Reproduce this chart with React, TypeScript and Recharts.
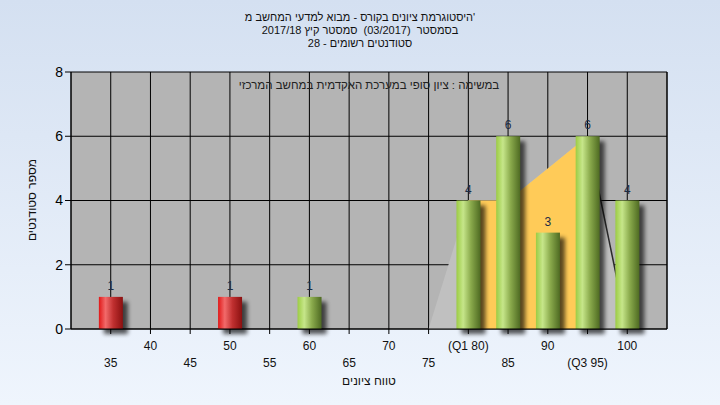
import React from 'react';
import {
  ComposedChart,
  Bar,
  Area,
  XAxis,
  YAxis,
  CartesianGrid,
  LabelList,
} from 'recharts';

// grade buckets and how many students landed in each
const scores = [35, 40, 45, 50, 55, 60, 65, 70, 75, 80, 85, 90, 95, 100];
const counts = [1, 0, 0, 1, 0, 1, 0, 0, 0, 4, 6, 3, 6, 4];
const tickLabels = ['35', '40', '45', '50', '55', '60', '65', '70', '75', '(Q1 80)', '85', '90', '(Q3 95)', '100'];
// shaded spread behind the bars (light grey) and the Q1..Q3 band (yellow)
const spread = [null, null, null, null, null, null, null, null, 0, 4, 4, 5, 6, 0];
const spreadEdge = [null, null, null, null, null, null, null, null, null, null, null, null, 6, 0];
const iqrBand = [null, null, null, null, null, null, null, null, null, 4, 4, 5, 6, null];
const yTicks = [0, 2, 4, 6, 8];
const passMark = 55;

const titleLines = [
  "היסטוגרמת ציונים בקורס - מבוא למדעי המחשב מ'",
  'בסמסטר  (03/2017)  סמסטר קיץ 2017/18',
  'סטודנטים רשומים - 28',
];
const subtitle = 'במשימה : ציון סופי במערכת האקדמית במחשב המרכזי';
const xTitle = 'טווח ציונים';
const yTitle = 'מספר סטודנטים';

const data = scores.map((score, i) => ({
  score,
  count: counts[i],
  spread: spread[i],
  edge: spreadEdge[i],
  iqr: iqrBand[i],
}));

const FONT = '"Liberation Sans", Arial, sans-serif';

const GlossyBar = (props: any) => {
  const { x, y, width, height, payload } = props;
  if (!height || height <= 0) return null;
  const fill = payload.score < passMark ? 'url(#redGrad)' : 'url(#greenGrad)';
  return (
    <g>
      <rect x={x + 5} y={y + 5} width={width} height={height} fill='#000' opacity={0.65} filter='url(#barShadow)' />
      <rect x={x} y={y} width={width} height={height} fill={fill} />
    </g>
  );
};

const ScoreTick = (props: any) => {
  const { x, y, payload } = props;
  const i = scores.indexOf(payload.value);
  const lower = i % 2 === 0;
  return (
    <text x={x} y={y + (lower ? 31 : 14)} textAnchor='middle' fontSize={12} fontFamily={FONT} fill='#111'>
      {tickLabels[i]}
    </text>
  );
};

const App = () => {
  return (
    <div
      style={{
        position: 'absolute',
        left: 0,
        top: 0,
        width: 720,
        height: 405,
        background: 'linear-gradient(#d4e0f1, #eff5fd)',
        fontFamily: FONT,
      }}
    >
      <svg width={0} height={0} style={{ position: 'absolute' }}>
        <defs>
          <linearGradient id='greenGrad' x1='0' y1='0' x2='1' y2='0'>
            <stop offset='0%' stopColor='#9ccc44' />
            <stop offset='28%' stopColor='#c6e68a' />
            <stop offset='60%' stopColor='#8aaa4c' />
            <stop offset='100%' stopColor='#4e6a22' />
          </linearGradient>
          <linearGradient id='redGrad' x1='0' y1='0' x2='1' y2='0'>
            <stop offset='0%' stopColor='#e01818' />
            <stop offset='28%' stopColor='#f26a6a' />
            <stop offset='60%' stopColor='#c03030' />
            <stop offset='100%' stopColor='#8a1010' />
          </linearGradient>
          <filter id='barShadow' x='-50%' y='-50%' width='200%' height='200%'>
            <feGaussianBlur stdDeviation='2' />
          </filter>
        </defs>
      </svg>
      <ComposedChart
        width={720}
        height={405}
        data={data}
        margin={{ top: 72, right: 23, bottom: 36, left: 41 }}
      >
        <CartesianGrid fill='#b4b4b4' stroke='#000' strokeOpacity={1} />
        <XAxis
          dataKey='score'
          type='number'
          domain={[30, 105]}
          ticks={scores}
          interval={0}
          height={40}
          tick={<ScoreTick />}
          tickSize={5}
          axisLine={{ stroke: '#000' }}
          tickLine={{ stroke: '#000' }}
        />
        <YAxis
          domain={[0, 8]}
          ticks={yTicks}
          width={30}
          tickSize={6}
          tickMargin={2}
          axisLine={{ stroke: '#000' }}
          tickLine={{ stroke: '#000' }}
          tick={{ fill: '#000', fontSize: 14, fontFamily: FONT }}
        />
        <YAxis
          yAxisId='r'
          orientation='right'
          domain={[0, 8]}
          ticks={yTicks}
          width={30}
          tickSize={8}
          tickMargin={2}
          axisLine={{ stroke: '#000' }}
          tickLine={{ stroke: '#000' }}
          tick={{ fill: '#000', fontSize: 14, fontFamily: FONT }}
        />
        <Area
          dataKey='spread'
          type='linear'
          fill='#c0c0c0'
          fillOpacity={1}
          stroke='none'
          isAnimationActive={false}
        />
        <Area
          dataKey='edge'
          type='linear'
          fill='none'
          stroke='#2a2a2a'
          strokeWidth={1.5}
          dot={false}
          activeDot={false}
          isAnimationActive={false}
        />
        <Area
          dataKey='iqr'
          type='linear'
          fill='#ffcb58'
          fillOpacity={1}
          stroke='none'
          isAnimationActive={false}
        />
        <Bar dataKey='count' barSize={24} shape={<GlossyBar />} isAnimationActive={false}>
          <LabelList
            dataKey='count'
            position='top'
            offset={7}
            formatter={(v: any) => (v ? v : '')}
            style={{ fill: '#1c2c44', fontSize: 12, fontFamily: FONT }}
          />
        </Bar>
      </ComposedChart>
      <svg
        width={720}
        height={405}
        style={{ position: 'absolute', left: 0, top: 0, pointerEvents: 'none' }}
        fontFamily={FONT}
      >
        {titleLines.map((line, i) => (
          <text
            key={i}
            x={360}
            y={21 + i * 13}
            textAnchor='middle'
            fontSize={11}
            fill='#111'
            xmlSpace='preserve'
            style={{ whiteSpace: 'pre' }}
          >
            {line}
          </text>
        ))}
        <text x={369} y={89} textAnchor='middle' fontSize={11.5} fill='#222'>
          {subtitle}
        </text>
        <text x={369} y={385} textAnchor='middle' fontSize={12} fill='#111'>
          {xTitle}
        </text>
        <text
          x={33}
          y={200}
          textAnchor='middle'
          fontSize={12}
          fill='#111'
          transform='rotate(-90 33 200)'
          dominantBaseline='middle'
        >
          {yTitle}
        </text>
      </svg>
    </div>
  );
};

export default App;
